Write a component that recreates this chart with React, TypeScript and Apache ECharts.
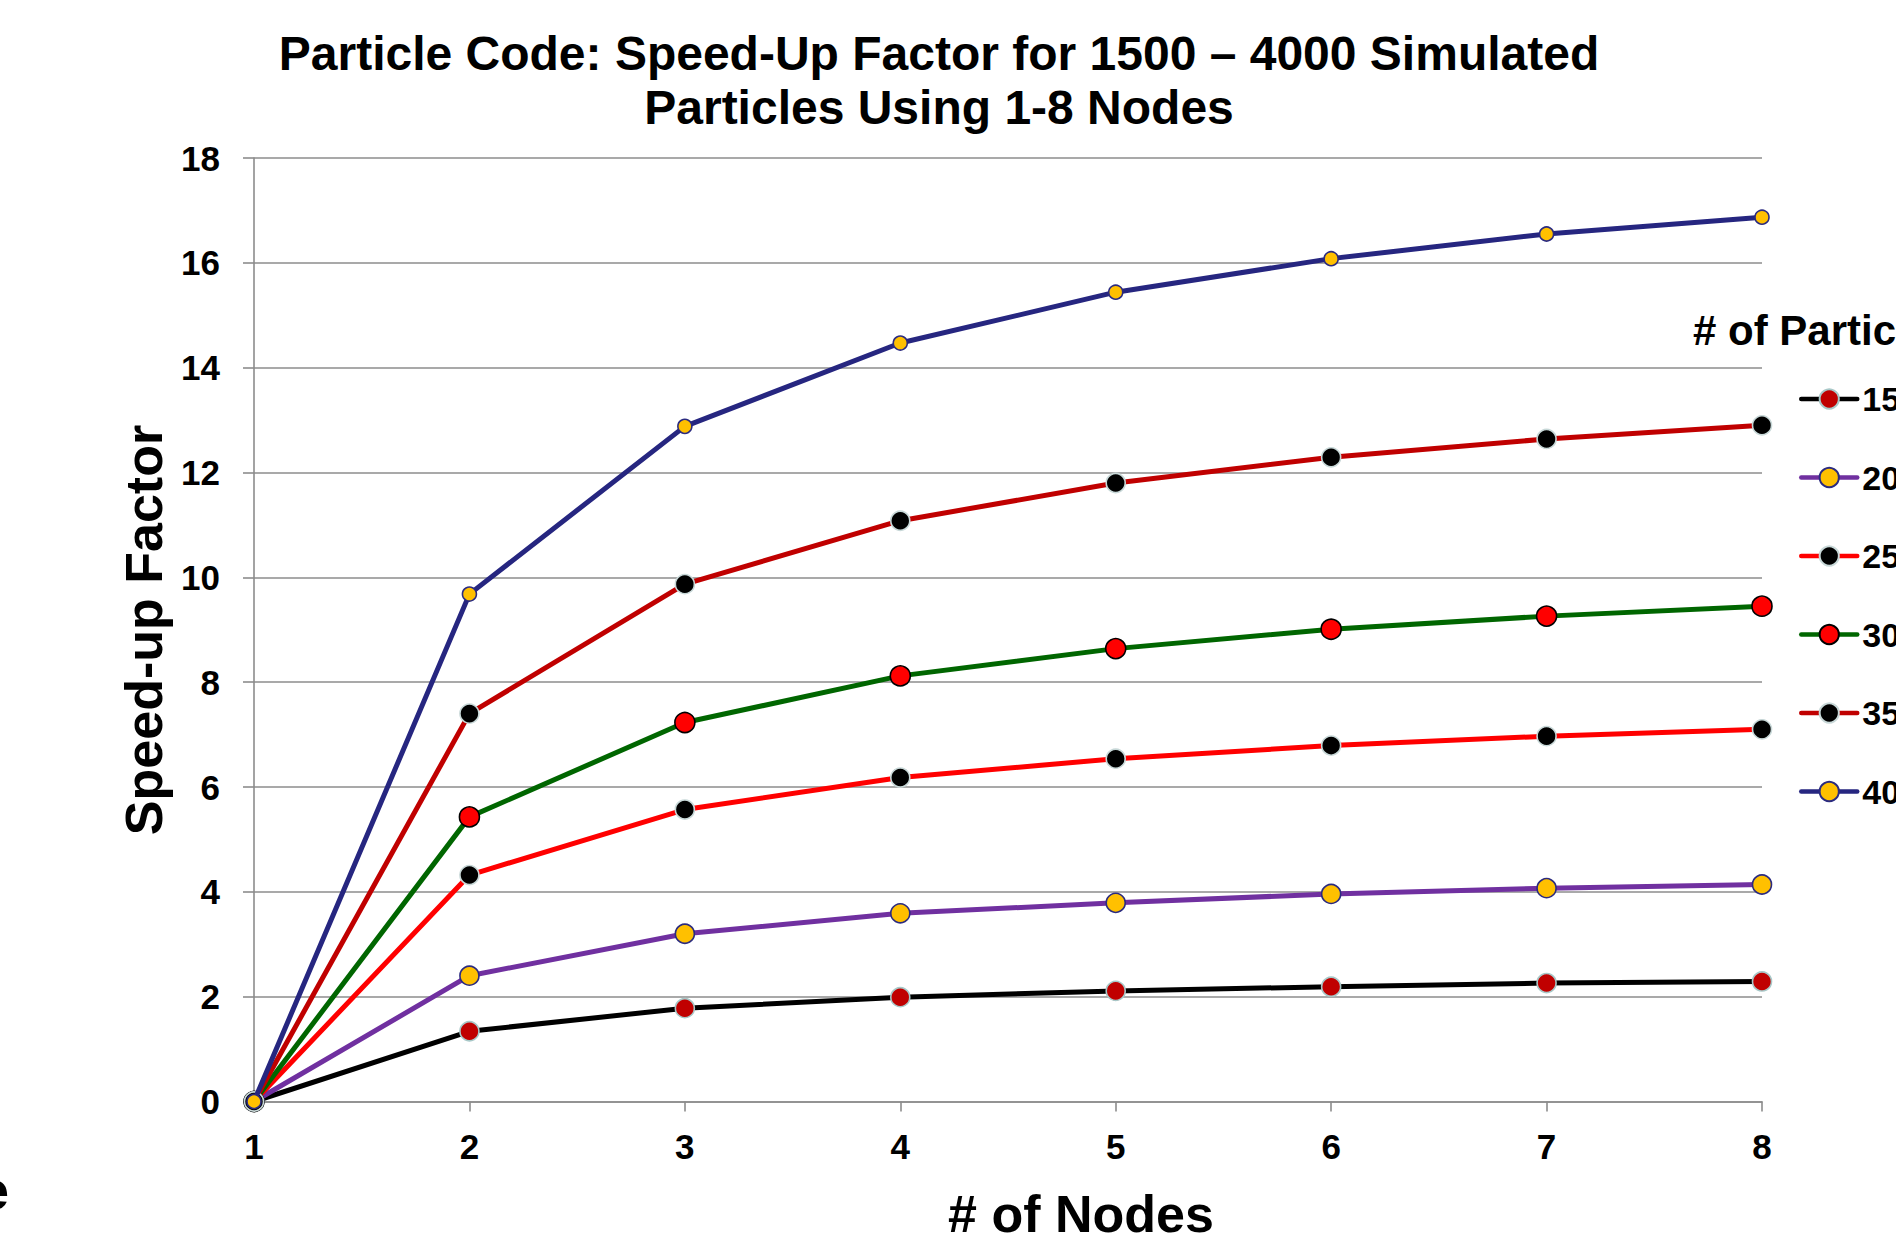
import React, { useEffect, useRef } from 'react';
import * as echarts from 'echarts';

// ---- Data ----
const nodes = [1, 2, 3, 4, 5, 6, 7, 8];
const seriesNames = ['1500', '2000', '2500', '3000', '3500', '4000'];
const p1500 = [0, 1.34, 1.78, 1.99, 2.11, 2.19, 2.26, 2.29];
const p2000 = [0, 2.40, 3.20, 3.59, 3.79, 3.96, 4.07, 4.14];
const p2500 = [0, 4.32, 5.57, 6.18, 6.54, 6.79, 6.97, 7.10];
const p3000 = [0, 5.43, 7.23, 8.12, 8.64, 9.01, 9.26, 9.45];
const p3500 = [0, 7.40, 9.87, 11.08, 11.80, 12.29, 12.64, 12.90];
const p4000 = [0, 9.68, 12.88, 14.47, 15.44, 16.08, 16.55, 16.87];
const seriesValues = [p1500, p2000, p2500, p3000, p3500, p4000];

const titleText = 'Particle Code: Speed-Up Factor for 1500 \u2013 4000 Simulated\nParticles Using 1-8 Nodes';
const yAxisTitle = 'Speed-up Factor';
const xAxisTitle = '# of Nodes';
const legendTitle = '# of Particles';

// ---- Styles ----
const FONT = '"Liberation Sans", Arial, Helvetica, sans-serif';
const lineColors = ['#000000', '#7030A0', '#FF0000', '#006600', '#C00000', '#262680'];
const markerFill = ['#C00000', '#FFC000', '#000000', '#FF0000', '#000000', '#FFC000'];
const markerBorder = ['#A8C8C8', '#2B2B80', '#C8D8D8', '#000000', '#C8D8D8', '#2B2B80'];
const markerSize = [19, 19, 19, 20, 19, 14];
const GRID = '#8C8C8C';

export default function App() {
  const ref = useRef<HTMLDivElement>(null);

  useEffect(() => {
    if (!ref.current) return;
    const chart = echarts.init(ref.current, undefined, { renderer: 'svg' });

    const series = seriesNames.map((name, i) => ({
      name,
      type: 'line',
      data: nodes.map((x, j) => [x, seriesValues[i][j]]),
      symbol: 'circle',
      symbolSize: markerSize[i],
      showAllSymbol: true,
      lineStyle: { width: 5, color: lineColors[i], cap: 'round', join: 'round' },
      itemStyle: { color: markerFill[i], borderColor: markerBorder[i], borderWidth: 1.6 },
      emphasis: { disabled: true },
      z: 2 + i,
    }));

    chart.setOption({
      animation: false,
      backgroundColor: '#ffffff',
      grid: { left: 254, right: 134, top: 158, bottom: 142.5, containLabel: false },
      xAxis: {
        type: 'value',
        min: 1,
        max: 8,
        interval: 1,
        axisLine: { show: true, lineStyle: { color: GRID, width: 1.6 } },
        axisTick: { show: true, length: 10, inside: false, lineStyle: { color: GRID, width: 1.6 } },
        splitLine: { show: false },
        axisLabel: { margin: 27, fontSize: 35, fontWeight: 'bold', color: '#000', fontFamily: FONT },
      },
      yAxis: {
        type: 'value',
        min: 0,
        max: 18,
        interval: 2,
        axisLine: { show: true, lineStyle: { color: GRID, width: 1.6 } },
        axisTick: { show: true, length: 11, inside: false, lineStyle: { color: GRID, width: 1.6 } },
        splitLine: { show: true, lineStyle: { color: GRID, width: 1.6 } },
        axisLabel: { margin: 34, fontSize: 35, fontWeight: 'bold', color: '#000', fontFamily: FONT },
      },
      legend: {
        data: seriesNames,
        orient: 'vertical',
        left: 1799,
        top: 382,
        padding: 0,
        itemWidth: 56,
        itemHeight: 24,
        itemGap: 44.5,
        selectedMode: false,
        lineStyle: { width: 4.5 },
        textStyle: { fontSize: 34, fontWeight: 'bold', color: '#000', fontFamily: FONT },
      },
      graphic: [
        {
          type: 'text',
          x: 939,
          y: 26,
          style: {
            text: titleText,
            font: `bold 48px ${FONT}`,
            fill: '#000',
            textAlign: 'center',
            textVerticalAlign: 'top',
            lineHeight: 54,
          },
        },
        {
          type: 'text',
          x: 144,
          y: 630,
          rotation: Math.PI / 2,
          style: {
            text: yAxisTitle,
            font: `bold 52px ${FONT}`,
            fill: '#000',
            textAlign: 'center',
            textVerticalAlign: 'middle',
          },
        },
        {
          type: 'text',
          x: 1081,
          y: 1214,
          style: {
            text: xAxisTitle,
            font: `bold 52px ${FONT}`,
            fill: '#000',
            textAlign: 'center',
            textVerticalAlign: 'middle',
          },
        },
        {
          type: 'text',
          x: 1693,
          y: 330,
          style: {
            text: legendTitle,
            font: `bold 42px ${FONT}`,
            fill: '#000',
            textAlign: 'left',
            textVerticalAlign: 'middle',
          },
        },
        {
          type: 'text',
          x: 9,
          y: 1190,
          style: {
            text: 'e',
            font: `bold 54px ${FONT}`,
            fill: '#000',
            textAlign: 'right',
            textVerticalAlign: 'middle',
          },
        },
      ],
      series,
    });

    return () => chart.dispose();
  }, []);

  return (
    <div
      ref={ref}
      style={{ position: 'fixed', left: 0, top: 0, width: 1896, height: 1244, background: '#fff' }}
    />
  );
}
